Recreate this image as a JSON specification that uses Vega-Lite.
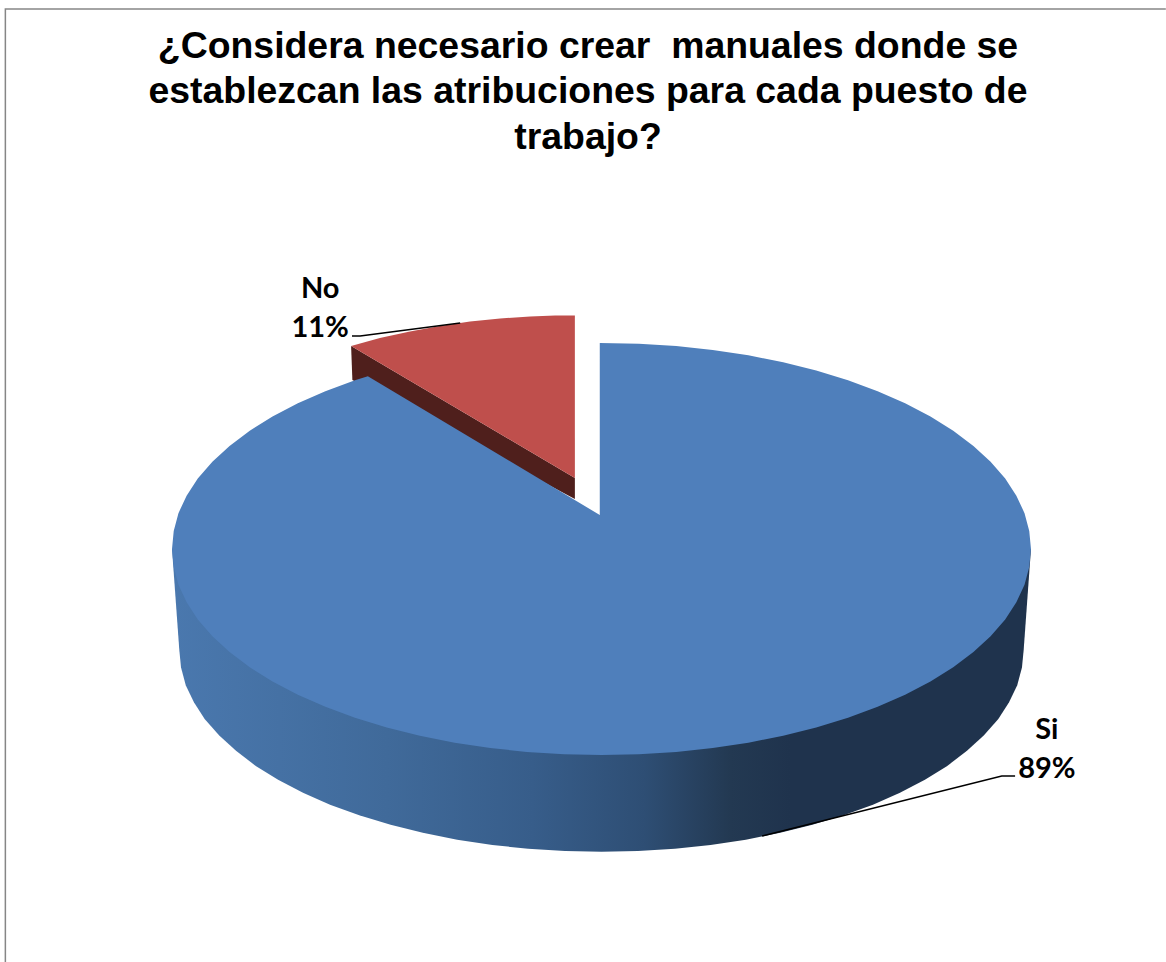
{
  "$schema": "https://vega.github.io/schema/vega-lite/v6.json",
  "width": 1166,
  "height": 962,
  "padding": 0,
  "autosize": "none",
  "background": "white",
  "config": {"view": {"stroke": null}},
  "title": {
    "text": ["¿Considera necesario crear\u00a0 manuales donde se", "establezcan las atribuciones para cada puesto de", "trabajo?"],
    "font": "Liberation Sans",
    "fontWeight": "bold",
    "fontSize": 37.4,
    "lineHeight": 45.5,
    "color": "black",
    "anchor": "start",
    "align": "center",
    "dx": 588,
    "baseline": "bottom",
    "offset": -194
  },
  "encoding": {
    "x": {"field": "x", "type": "quantitative", "axis": null, "scale": {"domain": [-1.4005, 1.3144], "nice": false, "zero": false}},
    "y": {"field": "y", "type": "quantitative", "axis": null, "scale": {"domain": [-2.0049, 2.665], "nice": false, "zero": false}},
    "order": {"field": "o", "type": "quantitative"}
  },
  "layer": [
    {
      "description": "Chart frame, left and top edges",
      "data": {"values": [{"o": 0, "x": -1.388, "y": -2.005}, {"o": 1, "x": -1.388, "y": 2.621}, {"o": 2, "x": 1.314, "y": 2.621}]},
      "mark": {"type": "line", "stroke": "#868686", "strokeWidth": 1.5}
    },
    {
      "description": "Side wall of the No slice",
      "data": {"values": [{"o": 0, "x": -0.583, "y": 0.985}, {"o": 1, "x": -0.062, "y": 0.345}, {"o": 2, "x": -0.062, "y": 0.243}, {"o": 3, "x": -0.58, "y": 0.82}]},
      "mark": {"type": "line", "interpolate": "linear-closed", "fill": "#4f1f1c", "stroke": null}
    },
    {
      "description": "Top face of the No slice (11%)",
      "data": {"values": [
        {"o": 0, "x": -0.062, "y": 0.345}, {"o": 1, "x": -0.583, "y": 0.985}, {"o": 2, "x": -0.516, "y": 1.024}, {"o": 3, "x": -0.446, "y": 1.056},
        {"o": 4, "x": -0.376, "y": 1.083}, {"o": 5, "x": -0.306, "y": 1.104}, {"o": 6, "x": -0.236, "y": 1.119}, {"o": 7, "x": -0.166, "y": 1.129},
        {"o": 8, "x": -0.108, "y": 1.133}, {"o": 9, "x": -0.062, "y": 1.133}
      ]},
      "mark": {"type": "line", "interpolate": "linear-closed", "fill": "#bf4f4c", "stroke": null}
    },
    {
      "description": "Outer wall of the Si slice",
      "data": {"values": [
        {"o": 0, "x": -1, "y": 0}, {"o": 1, "x": -0.983, "y": -0.49}, {"o": 2, "x": -0.979, "y": -0.575}, {"o": 3, "x": -0.968, "y": -0.661},
        {"o": 4, "x": -0.949, "y": -0.744}, {"o": 5, "x": -0.924, "y": -0.825}, {"o": 6, "x": -0.89, "y": -0.905}, {"o": 7, "x": -0.851, "y": -0.98},
        {"o": 8, "x": -0.805, "y": -1.053}, {"o": 9, "x": -0.753, "y": -1.12}, {"o": 10, "x": -0.695, "y": -1.183}, {"o": 11, "x": -0.632, "y": -1.241},
        {"o": 12, "x": -0.564, "y": -1.293}, {"o": 13, "x": -0.491, "y": -1.339}, {"o": 14, "x": -0.416, "y": -1.378}, {"o": 15, "x": -0.336, "y": -1.411},
        {"o": 16, "x": -0.254, "y": -1.437}, {"o": 17, "x": -0.171, "y": -1.455}, {"o": 18, "x": -0.085, "y": -1.466}, {"o": 19, "x": 0, "y": -1.47},
        {"o": 20, "x": 0.085, "y": -1.466}, {"o": 21, "x": 0.171, "y": -1.455}, {"o": 22, "x": 0.254, "y": -1.437}, {"o": 23, "x": 0.336, "y": -1.411},
        {"o": 24, "x": 0.416, "y": -1.378}, {"o": 25, "x": 0.491, "y": -1.339}, {"o": 26, "x": 0.564, "y": -1.293}, {"o": 27, "x": 0.632, "y": -1.241},
        {"o": 28, "x": 0.695, "y": -1.183}, {"o": 29, "x": 0.753, "y": -1.12}, {"o": 30, "x": 0.805, "y": -1.053}, {"o": 31, "x": 0.851, "y": -0.98},
        {"o": 32, "x": 0.89, "y": -0.905}, {"o": 33, "x": 0.924, "y": -0.825}, {"o": 34, "x": 0.949, "y": -0.744}, {"o": 35, "x": 0.968, "y": -0.661},
        {"o": 36, "x": 0.979, "y": -0.575}, {"o": 37, "x": 0.983, "y": -0.49}, {"o": 38, "x": 1, "y": 0}
      ]},
      "mark": {
        "type": "line",
        "interpolate": "linear-closed",
        "stroke": null,
        "fill": {
          "gradient": "linear", "x1": 0, "y1": 0, "x2": 1, "y2": 0,
          "stops": [
            {"offset": 0, "color": "#4a78ae"},
            {"offset": 0.25, "color": "#406a9a"},
            {"offset": 0.42, "color": "#375d8a"},
            {"offset": 0.55, "color": "#2e4e74"},
            {"offset": 0.65, "color": "#233952"},
            {"offset": 0.72, "color": "#1f334d"},
            {"offset": 1, "color": "#1f334d"}
          ]
        }
      }
    },
    {
      "description": "Top face of the Si slice (89%)",
      "data": {"values": [
        {"o": 0, "x": -0.004, "y": 0.165}, {"o": 1, "x": -0.004, "y": 1}, {"o": 2, "x": 0.087, "y": 0.996}, {"o": 3, "x": 0.174, "y": 0.985},
        {"o": 4, "x": 0.259, "y": 0.966}, {"o": 5, "x": 0.342, "y": 0.94}, {"o": 6, "x": 0.423, "y": 0.906}, {"o": 7, "x": 0.5, "y": 0.866},
        {"o": 8, "x": 0.574, "y": 0.819}, {"o": 9, "x": 0.643, "y": 0.766}, {"o": 10, "x": 0.707, "y": 0.707}, {"o": 11, "x": 0.766, "y": 0.643},
        {"o": 12, "x": 0.819, "y": 0.574}, {"o": 13, "x": 0.866, "y": 0.5}, {"o": 14, "x": 0.906, "y": 0.423}, {"o": 15, "x": 0.94, "y": 0.342},
        {"o": 16, "x": 0.966, "y": 0.259}, {"o": 17, "x": 0.985, "y": 0.174}, {"o": 18, "x": 0.996, "y": 0.087}, {"o": 19, "x": 1, "y": 0},
        {"o": 20, "x": 0.996, "y": -0.087}, {"o": 21, "x": 0.985, "y": -0.174}, {"o": 22, "x": 0.966, "y": -0.259}, {"o": 23, "x": 0.94, "y": -0.342},
        {"o": 24, "x": 0.906, "y": -0.423}, {"o": 25, "x": 0.866, "y": -0.5}, {"o": 26, "x": 0.819, "y": -0.574}, {"o": 27, "x": 0.766, "y": -0.643},
        {"o": 28, "x": 0.707, "y": -0.707}, {"o": 29, "x": 0.643, "y": -0.766}, {"o": 30, "x": 0.574, "y": -0.819}, {"o": 31, "x": 0.5, "y": -0.866},
        {"o": 32, "x": 0.423, "y": -0.906}, {"o": 33, "x": 0.342, "y": -0.94}, {"o": 34, "x": 0.259, "y": -0.966}, {"o": 35, "x": 0.174, "y": -0.985},
        {"o": 36, "x": 0.087, "y": -0.996}, {"o": 37, "x": 0, "y": -1},
        {"o": 38, "x": -0.087, "y": -0.996}, {"o": 39, "x": -0.174, "y": -0.985}, {"o": 40, "x": -0.259, "y": -0.966}, {"o": 41, "x": -0.342, "y": -0.94},
        {"o": 42, "x": -0.423, "y": -0.906}, {"o": 43, "x": -0.5, "y": -0.866}, {"o": 44, "x": -0.574, "y": -0.819}, {"o": 45, "x": -0.643, "y": -0.766},
        {"o": 46, "x": -0.707, "y": -0.707}, {"o": 47, "x": -0.766, "y": -0.643}, {"o": 48, "x": -0.819, "y": -0.574}, {"o": 49, "x": -0.866, "y": -0.5},
        {"o": 50, "x": -0.906, "y": -0.423}, {"o": 51, "x": -0.94, "y": -0.342}, {"o": 52, "x": -0.966, "y": -0.259}, {"o": 53, "x": -0.985, "y": -0.174},
        {"o": 54, "x": -0.996, "y": -0.087}, {"o": 55, "x": -1, "y": 0},
        {"o": 56, "x": -0.996, "y": 0.087}, {"o": 57, "x": -0.985, "y": 0.174}, {"o": 58, "x": -0.966, "y": 0.259}, {"o": 59, "x": -0.94, "y": 0.342},
        {"o": 60, "x": -0.906, "y": 0.423}, {"o": 61, "x": -0.866, "y": 0.5}, {"o": 62, "x": -0.819, "y": 0.574}, {"o": 63, "x": -0.766, "y": 0.643},
        {"o": 64, "x": -0.707, "y": 0.707}, {"o": 65, "x": -0.643, "y": 0.766}, {"o": 66, "x": -0.574, "y": 0.819}, {"o": 67, "x": -0.544, "y": 0.839}
      ]},
      "mark": {"type": "line", "interpolate": "linear-closed", "fill": "#4f7fbb", "stroke": null}
    },
    {
      "description": "Leader line of the No label",
      "data": {"values": [{"o": 0, "x": -0.329, "y": 1.097}, {"o": 1, "x": -0.562, "y": 1.034}, {"o": 2, "x": -0.581, "y": 1.034}]},
      "mark": {"type": "line", "stroke": "black", "strokeWidth": 1.5}
    },
    {
      "description": "Leader line of the Si label",
      "data": {"values": [{"o": 0, "x": 0.374, "y": -1.393}, {"o": 1, "x": 0.932, "y": -1.102}, {"o": 2, "x": 0.963, "y": -1.102}]},
      "mark": {"type": "line", "stroke": "black", "strokeWidth": 1.5}
    },
    {
      "description": "Category and share labels",
      "data": {"values": [
        {"categoria": "Si", "porcentaje": 89, "x": 1.037, "y": -0.879},
        {"categoria": "No", "porcentaje": 11, "x": -0.655, "y": 1.262}
      ]},
      "transform": [{"calculate": "[datum.categoria, datum.porcentaje + '%']", "as": "etiqueta"}],
      "mark": {"type": "text", "font": "Lato", "fontWeight": "bold", "fontSize": 29, "lineHeight": 39, "align": "center", "baseline": "middle", "color": "black"},
      "encoding": {"text": {"field": "etiqueta"}, "order": null}
    }
  ]
}
